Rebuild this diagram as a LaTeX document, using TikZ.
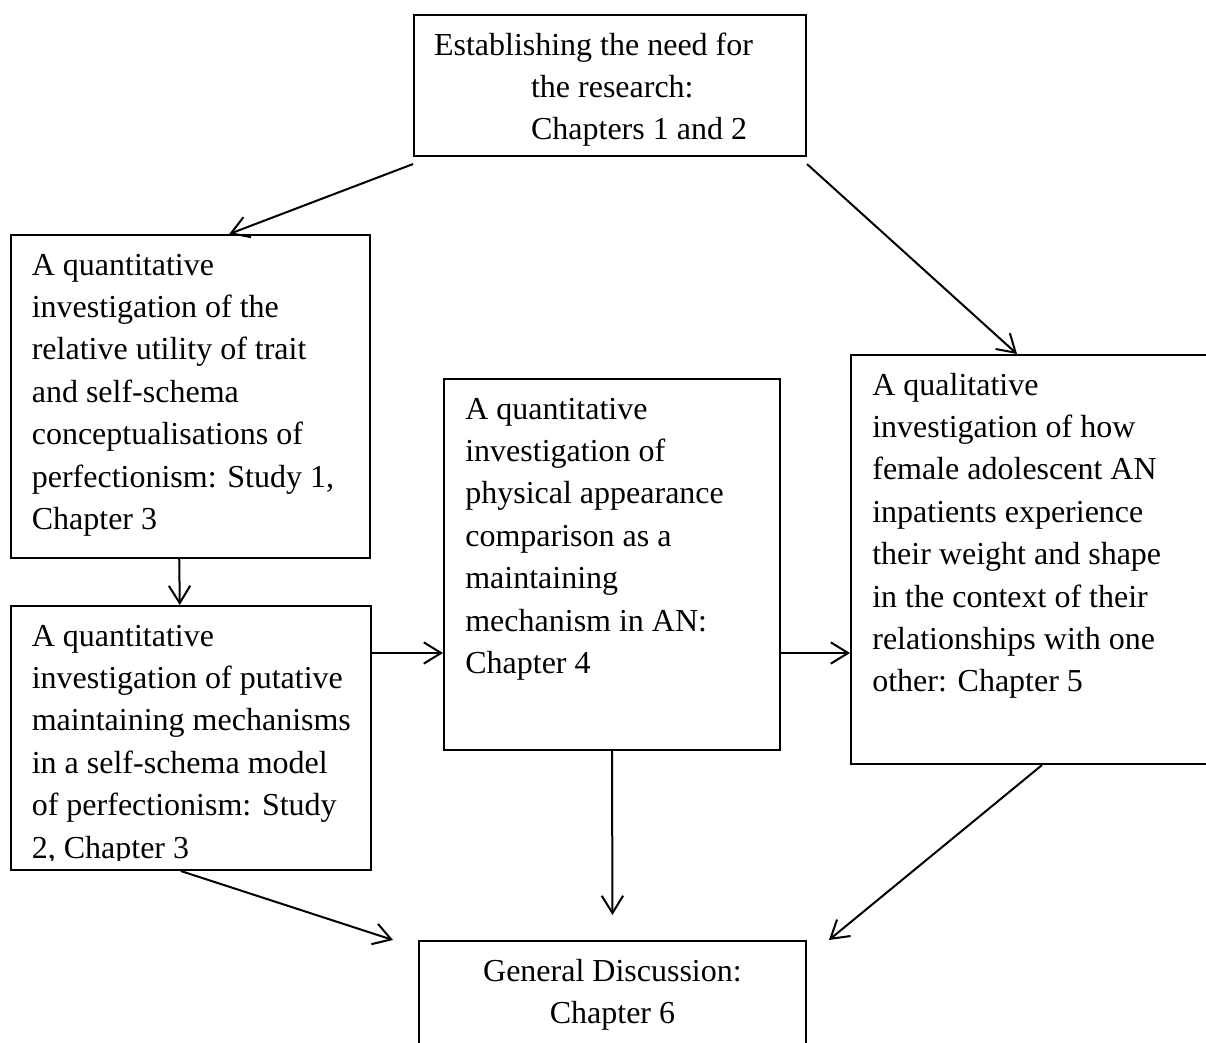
\documentclass[tikz,border=0pt]{standalone}
\usepackage{fontspec}
\setmainfont{Liberation Serif}
\usepackage{trimclip}
\usetikzlibrary{arrows.meta, calc}
\tikzset{
    chapbox/.style={draw, line width=0.75pt, anchor=north west, inner xsep=0pt, inner ysep=3.9pt, font=\fontsize{12pt}{15.9pt}\selectfont},
    flow/.style={line width=0.75pt, -{Straight Barb[length=6.5pt, width=8pt, line width=0.75pt]}}
}
\begin{document}
\begin{tikzpicture}[x=0.375pt, y=-0.375pt]
    \useasboundingbox (0,0) rectangle (1206,1043);

    \node[chapbox] (need) at (413,14) {\parbox[t][45.1pt][t]{147pt}{\raggedright\leftskip=7.5pt\strut Establishing the need for\\ \hspace*{36.4pt}the research:\\ \hspace*{36.4pt}Chapters 1 and 2}};
    \node[chapbox] (study1) at (9.5,234) {\parbox[t][113.3pt][t]{134.8pt}{\raggedright\leftskip=8pt\strut A quantitative\\ investigation of the\\ relative utility of trait\\ and self-schema\\ conceptualisations of\\ perfectionism: Study 1,\\ Chapter 3}};
    \node[chapbox] (study2) at (9.5,605) {\parbox[t][91.2pt][t]{135.2pt}{\raggedright\leftskip=8pt\strut A quantitative\\ investigation of putative\\ maintaining mechanisms\\ in a self-schema model\\ of perfectionism: Study\\ \clipbox{0pt 1.6pt 0pt 0pt}{2, Chapter 3}}};
    \node[chapbox] (appear) at (443,378) {\parbox[t][131.3pt][t]{126pt}{\raggedright\leftskip=8pt\strut A quantitative\\ investigation of\\ physical appearance\\ comparison as a\\ maintaining\\ mechanism in AN:\\ Chapter 4}};
    \node[chapbox] (qual) at (850,354) {\parbox[t][145.6pt][t]{135pt}{\raggedright\leftskip=8pt\strut A qualitative\\ investigation of how\\ female adolescent AN\\ inpatients experience\\ their weight and shape\\ in the context of their\\ relationships with one\\ other: Chapter 5}};
    \node[chapbox] (discuss) at (418,940) {\parbox[t][40.2pt][t]{145.1pt}{\centering\strut General Discussion:\\ Chapter 6}};

    \coordinate (rowmid) at (0,653);

    \draw[flow] ($(need.south west)+(0,7)$) -- ($(study1.north)+(39,0)$);
    \draw[flow] ($(need.south east)+(0,7)$) -- ($(qual.north west)+(167,0)$);
    \draw[flow] ($(study1.south)+(-11,0)$) -- ($(study2.north)+(-11,0)$);
    \draw[flow] (study2.east |- rowmid) -- (appear.west |- rowmid);
    \draw[flow] (appear.east |- rowmid) -- (qual.west |- rowmid);
    \draw[flow] (appear.south) -- ($(discuss.north)+(0,-25)$);
    \draw[flow] ($(study2.south)+(-10,0)$) -- ($(discuss.north west)+(-25,0)$);
    \draw[flow] ($(qual.south west)+(192,0)$) -- ($(discuss.north east)+(22,0)$);
\end{tikzpicture}
\end{document}
